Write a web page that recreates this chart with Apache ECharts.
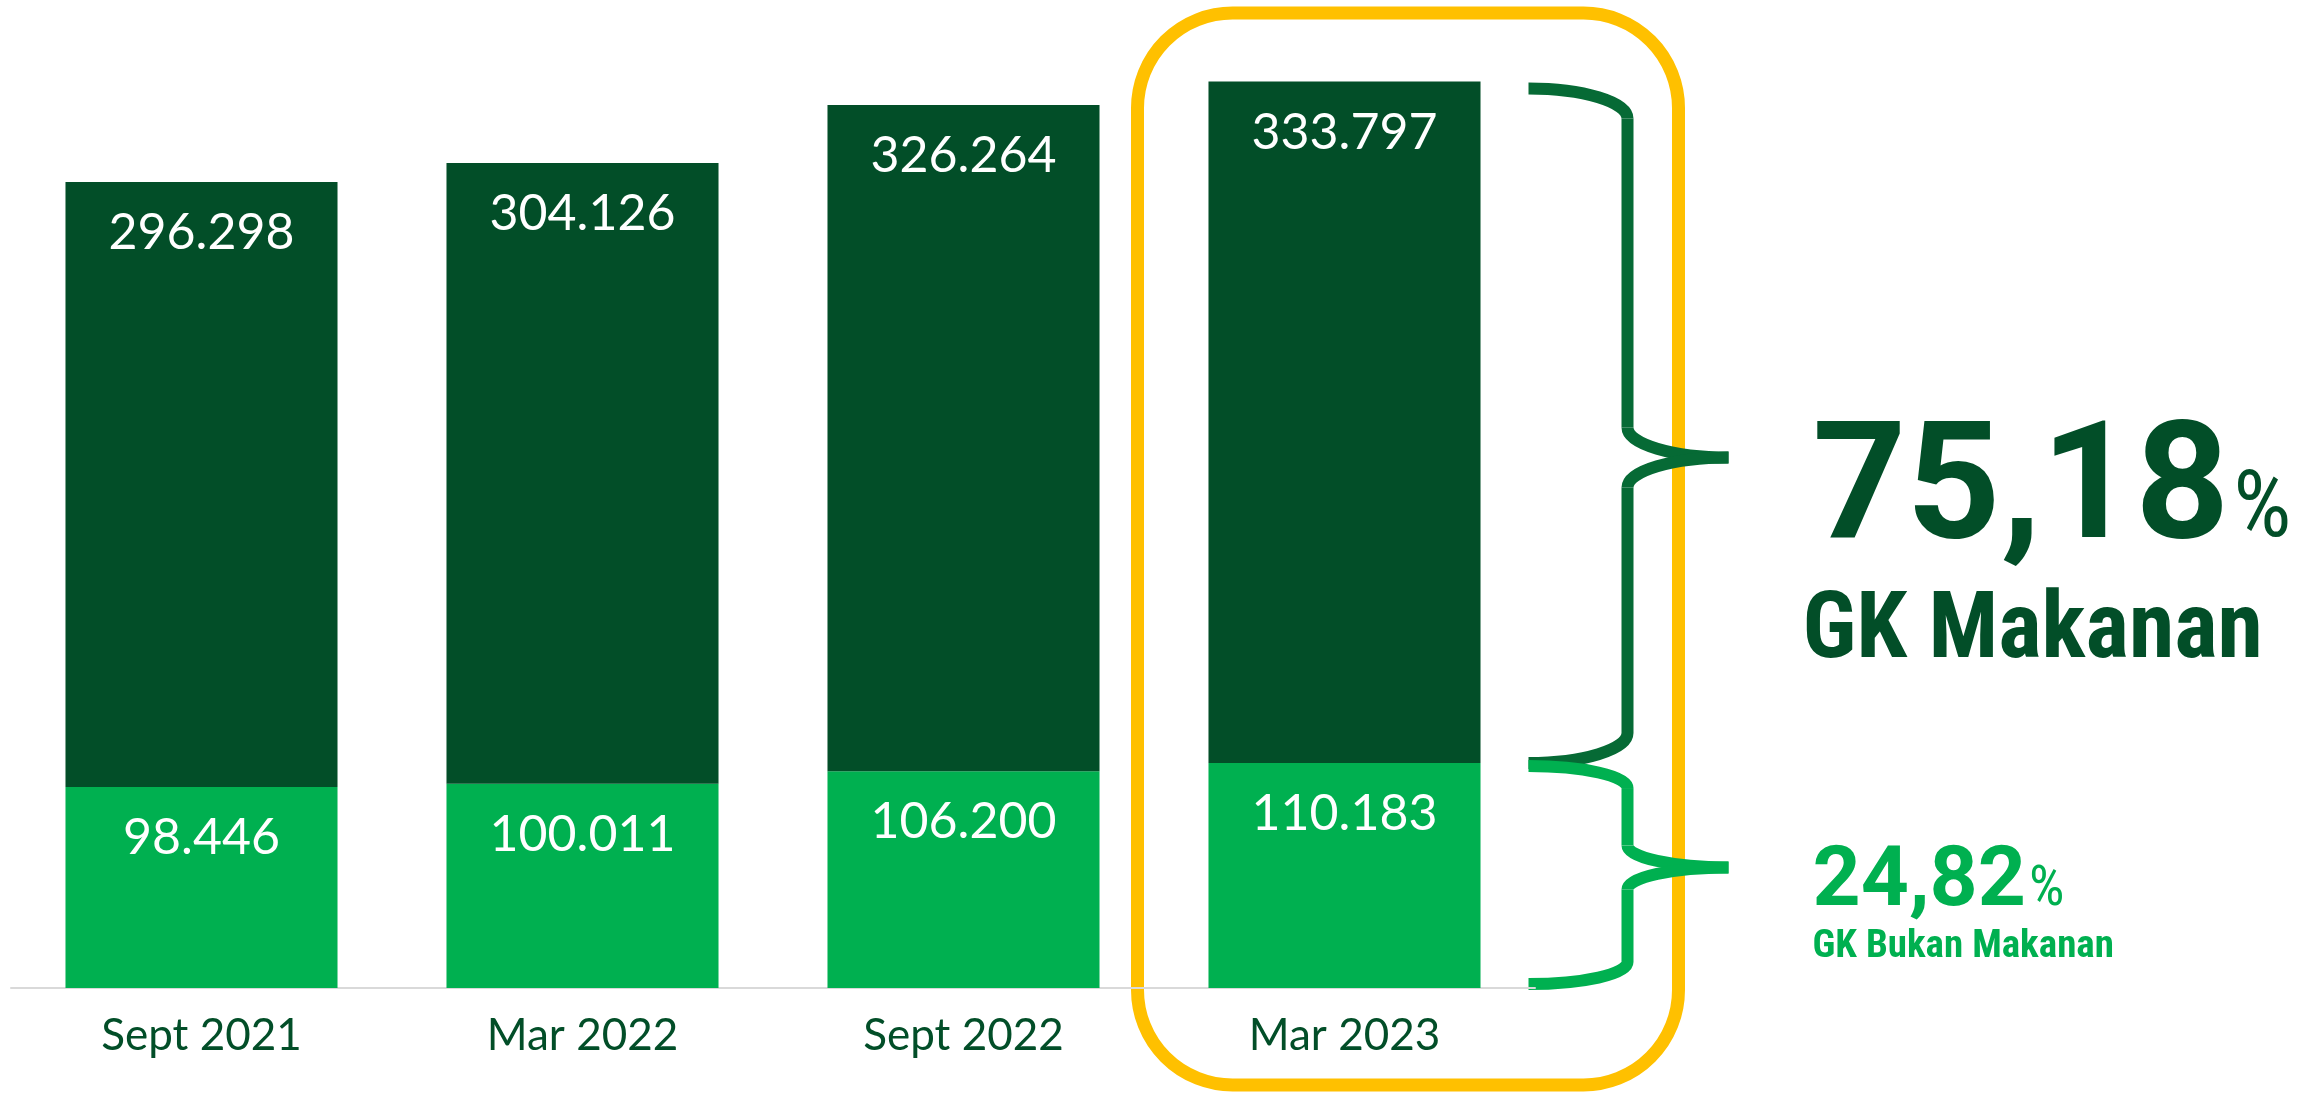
<!DOCTYPE html>
<html>
<head>
<meta charset="utf-8">
<script src="https://cdn.jsdelivr.net/npm/echarts@6/dist/echarts.min.js"></script>
<style>
  html, body { margin: 0; padding: 0; background: #fff; }
  #chart { width: 2311px; height: 1095px; }
</style>
</head>
<body>
<div id="chart"></div>
<script>
const periods = ['Sept 2021', 'Mar 2022', 'Sept 2022', 'Mar 2023'];
const gkBukanMakanan = [98446, 100011, 106200, 110183];
const gkMakanan = [296298, 304126, 326264, 333797];

const DARK = '#024e28';
const LIGHT = '#00b050';
const YELLOW = '#ffc000';
const NUM_FONT = "Roboto, 'Liberation Sans', sans-serif";
const WORD_FONT = "'Roboto Condensed', 'Liberation Sans Narrow', 'Liberation Sans', sans-serif";

// 296298 -> "296.298"
function fmtThousands(v) {
  return String(v).replace(/\B(?=(\d{3})+(?!\d))/g, '.');
}
function fmtPct(part, total) {
  return (part / total * 100).toFixed(2).replace('.', ',');
}

const measureCtx = document.createElement('canvas').getContext('2d');
function textWidth(text, font) {
  measureCtx.font = font;
  return measureCtx.measureText(text).width;
}

const chart = echarts.init(document.getElementById('chart'));

const valueLabel = {
  show: true,
  position: 'insideTop',
  distance: 26,
  color: '#fff',
  fontFamily: 'Lato',
  fontSize: 50,
  lineHeight: 50,
  formatter: (p) => fmtThousands(p.value),
};

chart.setOption({
  animation: false,
  grid: { left: 11, right: 776, top: 8, bottom: 107 },
  xAxis: {
    type: 'category',
    data: periods,
    axisTick: { show: false },
    axisLine: { lineStyle: { color: '#d9d9d9', width: 2 } },
    axisLabel: { color: DARK, fontFamily: 'Lato', fontSize: 44, margin: 26 },
  },
  yAxis: {
    type: 'value',
    min: 0,
    max: 480000,
    show: false,
    splitLine: { show: false },
  },
  series: [
    {
      name: 'GK Bukan Makanan',
      type: 'bar',
      stack: 'gk',
      barCategoryGap: '28.6%',
      data: gkBukanMakanan,
      itemStyle: { color: LIGHT },
      label: valueLabel,
    },
    {
      name: 'GK Makanan',
      type: 'bar',
      stack: 'gk',
      data: gkMakanan,
      itemStyle: { color: DARK },
      label: valueLabel,
    },
  ],
});

// a curly brace built from bezier pieces: ends at x0, stem at xs, tip at xt
function braceElements(x0, xs, xt, y0, y1, tipY, ry, color) {
  const k = 0.55;
  const rx1 = xs - x0;
  const rx2 = xt - xs;
  const style = { stroke: color, lineWidth: 12, fill: 'none' };
  const curve = (s) => ({ type: 'bezierCurve', shape: s, style, silent: true });
  const line = (s) => ({ type: 'line', shape: s, style, silent: true });
  return [
    curve({ x1: x0, y1: y0, cpx1: x0 + k * rx1, cpy1: y0, cpx2: xs, cpy2: y0 + ry * (1 - k), x2: xs, y2: y0 + ry }),
    line({ x1: xs, y1: y0 + ry, x2: xs, y2: tipY - ry }),
    curve({ x1: xs, y1: tipY - ry, cpx1: xs, cpy1: tipY - ry * (1 - k), cpx2: xt - k * rx2, cpy2: tipY, x2: xt, y2: tipY }),
    curve({ x1: xt, y1: tipY, cpx1: xt - k * rx2, cpy1: tipY, cpx2: xs, cpy2: tipY + ry * (1 - k), x2: xs, y2: tipY + ry }),
    line({ x1: xs, y1: tipY + ry, x2: xs, y2: y1 - ry }),
    curve({ x1: xs, y1: y1 - ry, cpx1: xs, cpy1: y1 - ry * (1 - k), cpx2: x0 + k * rx1, cpy2: y1, x2: x0, y2: y1 }),
  ];
}

// text placed by its baseline (canvas "middle" sits ~0.24em above it here)
function textAt(text, x, baseline, size, weight, color, family) {
  const font = weight + ' ' + size + 'px ' + family;
  return {
    type: 'text',
    silent: true,
    style: { text, x, y: baseline - 0.24 * size, fill: color, font, verticalAlign: 'middle' },
  };
}

function drawAnnotations() {
  const last = periods.length - 1;
  const total = gkMakanan[last] + gkBukanMakanan[last];
  const cx = chart.convertToPixel({ xAxisIndex: 0 }, periods[last]);
  const yTop = chart.convertToPixel({ yAxisIndex: 0 }, total);
  const yMid = chart.convertToPixel({ yAxisIndex: 0 }, gkBukanMakanan[last]);
  const yBase = chart.convertToPixel({ yAxisIndex: 0 }, 0);

  const x0 = cx + 184, xs = cx + 283, xt = cx + 384;
  const darkTop = yTop + 7, darkBot = yMid;
  const lightTop = yMid + 3, lightBot = yBase - 4;
  const darkTip = darkTop + (darkBot - darkTop) * 0.547;
  const lightTip = lightTop + (lightBot - lightTop) * 0.465;
  const tx = xt + 84;

  const pctDark = fmtPct(gkMakanan[last], total);
  const pctLight = fmtPct(gkBukanMakanan[last], total);
  const darkW = textWidth(pctDark, 'bold 164px ' + NUM_FONT);
  const lightW = textWidth(pctLight, 'bold 84px ' + NUM_FONT);

  chart.setOption({
    graphic: [
      {
        type: 'rect',
        silent: true,
        shape: { x: cx - 207, y: 13, width: 541, height: 1072, r: 95 },
        style: { fill: 'none', stroke: YELLOW, lineWidth: 13 },
      },
      ...braceElements(x0, xs, xt, darkTop, darkBot, darkTip, 30, '#066a35'),
      ...braceElements(x0, xs, xt, lightTop, lightBot, lightTip, 22, LIGHT),
      textAt(pctDark, tx, darkTip + 78, 164, 'bold', DARK, NUM_FONT),
      textAt('%', tx + darkW + 4, darkTip + 78, 92, 'normal', DARK, WORD_FONT),
      textAt('GK Makanan', tx - 10, darkTip + 199, 92, 'bold', DARK, WORD_FONT),
      textAt(pctLight, tx, lightTip + 37, 84, 'bold', LIGHT, NUM_FONT),
      textAt('%', tx + lightW + 3, lightTip + 37, 56, 'normal', LIGHT, WORD_FONT),
      textAt('GK Bukan Makanan', tx, lightTip + 89, 39, 'bold', LIGHT, WORD_FONT),
    ],
  });
}

drawAnnotations();
</script>
</body>
</html>
